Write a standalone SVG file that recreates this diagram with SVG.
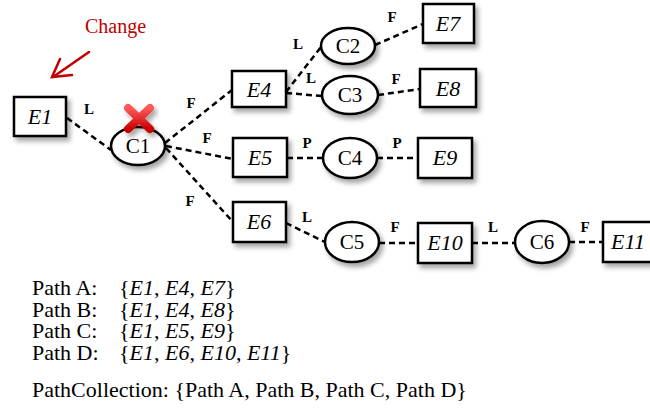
<svg xmlns="http://www.w3.org/2000/svg" width="650" height="417" viewBox="0 0 650 417">
<defs>
<filter id="sh" x="-30%" y="-30%" width="170%" height="180%">
<feDropShadow dx="3" dy="4" stdDeviation="2.5" flood-color="#000" flood-opacity="0.35"/>
</filter>
<linearGradient id="xg" x1="0" y1="0" x2="0" y2="1">
<stop offset="0" stop-color="#ff5a5a"/>
<stop offset="1" stop-color="#c80000"/>
</linearGradient>
</defs>
<style>
.box{fill:#fff;stroke:#000;stroke-width:2.5;filter:url(#sh)}
.ell{fill:#fff;stroke:#000;stroke-width:2.5;filter:url(#sh)}
.et{font-family:"Liberation Serif",serif;font-style:italic;font-size:22px;text-anchor:middle}
.ct{font-family:"Liberation Serif",serif;font-size:21px;text-anchor:middle}
.lb{font-family:"Liberation Serif",serif;font-weight:bold;font-size:15px;text-anchor:middle}
.edge{stroke:#000;stroke-width:2.5;stroke-dasharray:6 4;fill:none}
.tx{font-family:"Liberation Serif",serif;font-size:22px}
</style>
<rect width="650" height="417" fill="#fff"/>
<g id="connectors">
<line class="edge" x1="67" y1="118" x2="111" y2="150"/>
<line class="edge" x1="165" y1="143" x2="232" y2="90"/>
<line class="edge" x1="166" y1="146" x2="233" y2="159"/>
<line class="edge" x1="166" y1="148" x2="233" y2="222"/>
<line class="edge" x1="286" y1="92" x2="321" y2="47"/>
<line class="edge" x1="286" y1="93" x2="322" y2="96"/>
<line class="edge" x1="375" y1="45" x2="423" y2="24"/>
<line class="edge" x1="378" y1="95" x2="420" y2="89"/>
<line class="edge" x1="287" y1="158" x2="323" y2="158"/>
<line class="edge" x1="377" y1="158" x2="418" y2="158"/>
<line class="edge" x1="286" y1="223" x2="325" y2="242"/>
<line class="edge" x1="379" y1="243" x2="418" y2="243"/>
<line class="edge" x1="472" y1="243" x2="515" y2="243"/>
<line class="edge" x1="569" y1="242" x2="603" y2="242"/>
</g>
<g id="edge-labels">
<text class="lb" x="89" y="114">L</text>
<text class="lb" x="191" y="108">F</text>
<text class="lb" x="207" y="143">F</text>
<text class="lb" x="190" y="206">F</text>
<text class="lb" x="298" y="49">L</text>
<text class="lb" x="311" y="83">L</text>
<text class="lb" x="392" y="22">F</text>
<text class="lb" x="396" y="84">F</text>
<text class="lb" x="307" y="148">P</text>
<text class="lb" x="397" y="148">P</text>
<text class="lb" x="307" y="222">L</text>
<text class="lb" x="395" y="232">F</text>
<text class="lb" x="493" y="232">L</text>
<text class="lb" x="585" y="232">F</text>
</g>
<g id="E1"><rect class="box" x="14" y="97" width="52" height="39"/><text class="et" x="40" y="124">E1</text></g>
<g id="C1"><ellipse class="ell" cx="138" cy="146" rx="27" ry="19"/><text class="ct" x="138" y="153">C1</text></g>
<g id="E4"><rect class="box" x="232" y="71" width="54" height="36"/><text class="et" x="259" y="97">E4</text></g>
<g id="E5"><rect class="box" x="233" y="138" width="54" height="39"/><text class="et" x="260" y="165">E5</text></g>
<g id="E6"><rect class="box" x="233" y="202" width="53" height="40"/><text class="et" x="259" y="229">E6</text></g>
<g id="C2"><ellipse class="ell" cx="348" cy="46" rx="27" ry="18"/><text class="ct" x="348" y="53">C2</text></g>
<g id="C3"><ellipse class="ell" cx="350" cy="95" rx="28" ry="19"/><text class="ct" x="350" y="102">C3</text></g>
<g id="C4"><ellipse class="ell" cx="350" cy="158" rx="27" ry="20"/><text class="ct" x="350" y="165">C4</text></g>
<g id="C5"><ellipse class="ell" cx="352" cy="242" rx="27" ry="20"/><text class="ct" x="352" y="249">C5</text></g>
<g id="E7"><rect class="box" x="423" y="4" width="51" height="39"/><text class="et" x="448" y="31">E7</text></g>
<g id="E8"><rect class="box" x="420" y="69" width="56" height="38"/><text class="et" x="448" y="96">E8</text></g>
<g id="E9"><rect class="box" x="418" y="138" width="54" height="40"/><text class="et" x="445" y="165">E9</text></g>
<g id="E10"><rect class="box" x="418" y="223" width="54" height="40"/><text class="et" x="445" y="250">E10</text></g>
<g id="C6"><ellipse class="ell" cx="542" cy="242" rx="27" ry="21"/><text class="ct" x="542" y="249">C6</text></g>
<g id="E11"><rect class="box" x="603" y="222" width="57" height="40"/><text class="et" x="628" y="249">E11</text></g>
<g id="change-marker">
<g filter="url(#sh)" stroke="url(#xg)" stroke-width="8" stroke-linecap="round">
<line x1="128" y1="108" x2="150" y2="129"/>
<line x1="150" y1="108" x2="128" y2="129"/>
</g>
<text x="85" y="33" font-family="Liberation Serif, serif" font-size="20" fill="#c00000">Change</text>
<g stroke="#c00000" stroke-width="2.5" fill="none" stroke-linecap="round">
<line x1="89" y1="52" x2="53" y2="77"/>
<polyline points="60,59 52,77 72,75"/>
</g>
</g>
<g id="paths-text" class="tx">
<text x="32" y="295">Path A:</text><text x="119" y="295">{<tspan font-style="italic">E1</tspan>, <tspan font-style="italic">E4</tspan>, <tspan font-style="italic">E7</tspan>}</text>
<text x="32" y="317">Path B:</text><text x="119" y="317">{<tspan font-style="italic">E1</tspan>, <tspan font-style="italic">E4</tspan>, <tspan font-style="italic">E8</tspan>}</text>
<text x="32" y="338">Path C:</text><text x="119" y="338">{<tspan font-style="italic">E1</tspan>, <tspan font-style="italic">E5</tspan>, <tspan font-style="italic">E9</tspan>}</text>
<text x="32" y="360">Path D:</text><text x="119" y="360">{<tspan font-style="italic">E1</tspan>, <tspan font-style="italic">E6</tspan>, <tspan font-style="italic">E10</tspan>, <tspan font-style="italic">E11</tspan>}</text>
<text x="32" y="397">PathCollection: {Path A, Path B, Path C, Path D}</text>
</g>
</svg>
